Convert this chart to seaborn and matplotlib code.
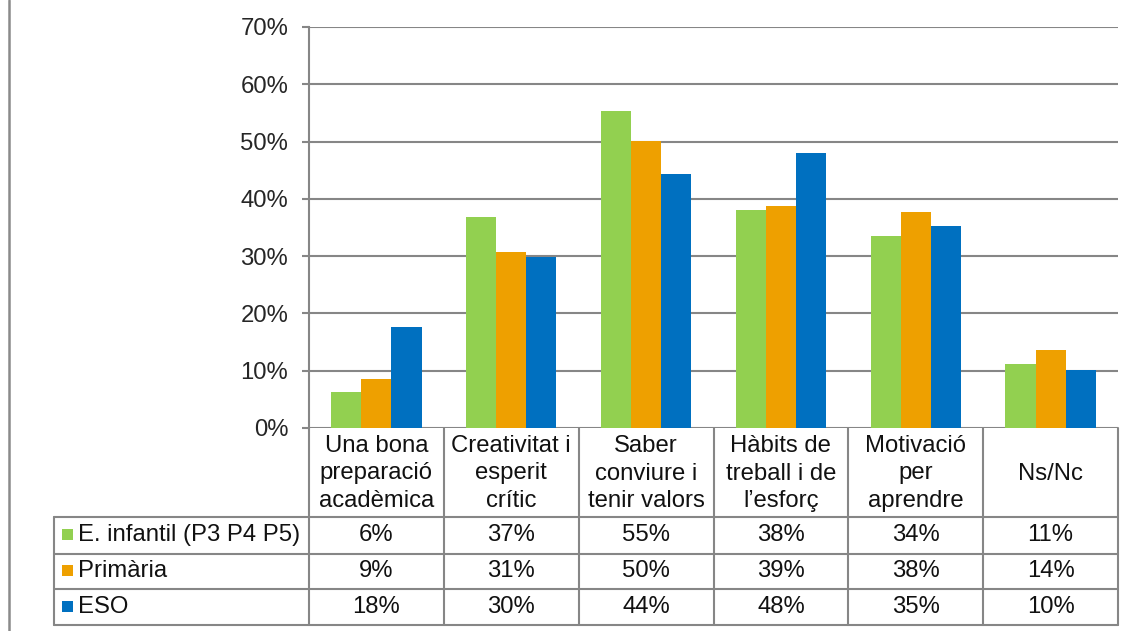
import numpy as np
import pandas as pd
import matplotlib.pyplot as plt
import seaborn as sns

# data (percentages)
categories = ["Una bona\npreparació\nacadèmica", "Creativitat i\nesperit\ncrític",
              "Saber\nconviure i\ntenir valors", "Hàbits de\ntreball i de\nl’esforç",
              "Motivació\nper\naprendre", "Ns/Nc"]
series = ["E. infantil (P3 P4 P5)", "Primària", "ESO"]
infantil = [6.3, 36.8, 55.4, 38.1, 33.6, 11.1]
primaria = [8.6, 30.8, 50.1, 38.7, 37.7, 13.7]
eso = [17.6, 29.8, 44.3, 48.0, 35.3, 10.1]
yticks = [0, 10, 20, 30, 40, 50, 60, 70]
colors = ["#92D050", "#EEA000", "#0070C0"]

values = [infantil, primaria, eso]
rows = []
for s, vals in zip(series, values):
    for c, v in zip(categories, vals):
        rows.append({"cat": c, "serie": s, "val": v})
df = pd.DataFrame(rows)

sns.set_style("white")
plt.rcParams['font.family'] = ['Liberation Sans', 'DejaVu Sans']
FS = 17.2
GRID = "#868686"

W, H = 1137, 631
fig = plt.figure(figsize=(W / 100, H / 100), dpi=100)

# plot area in pixels
x0, x1 = 309, 1118
y_top, y_zero = 27, 428
ax = fig.add_axes([x0 / W, (H - y_zero) / H, (x1 - x0) / W, (y_zero - y_top) / H])

sns.barplot(data=df, x="cat", y="val", hue="serie", palette=colors, hue_order=series,
            order=categories, width=0.67, saturation=1, linewidth=0, ax=ax, legend=False)

ax.set_ylim(0, 70)
ax.set_xlim(-0.5, len(categories) - 0.5)
ax.set_yticks(yticks)
ax.set_yticklabels([f"{t}%" for t in yticks], fontsize=FS)
ax.set_xticks([])
ax.set_xlabel("")
ax.set_ylabel("")
ax.yaxis.grid(True, color=GRID, linewidth=1.5)
ax.set_axisbelow(True)
ax.tick_params(axis="y", length=5, width=1.5, color=GRID, pad=10, left=True)
for side in ["top", "right", "bottom"]:
    ax.spines[side].set_visible(False)
ax.spines["left"].set_color(GRID)
ax.spines["left"].set_linewidth(1.5)

# data table under the chart, drawn in pixel coordinates
tab = fig.add_axes([0, 0, 1, 1], zorder=-1)
tab.set_xlim(0, W)
tab.set_ylim(H, 0)
tab.axis("off")

colw = (x1 - x0) / len(categories)
row_y = [517, 553.5, 589, 625]
tab_left = 54

# page border line on the left
tab.plot([9, 9], [0, H], color="#8a8a8a", lw=1.8)

for y in row_y:
    tab.plot([tab_left, x1], [y, y], color=GRID, lw=1.5)
tab.plot([tab_left, tab_left], [row_y[0], row_y[-1]], color=GRID, lw=1.5)
for i in range(len(categories) + 1):
    xx = x0 + i * colw
    tab.plot([xx, xx], [y_zero, row_y[-1]], color=GRID, lw=1.5)

for i, cat in enumerate(categories):
    cx = x0 + (i + 0.5) * colw
    tab.text(cx, (y_zero + row_y[0]) / 2 + 1, cat, ha="center", va="center",
             fontsize=FS, linespacing=1.32, color="#111111")

for r, (s, vals, col) in enumerate(zip(series, values, colors)):
    cy = (row_y[r] + row_y[r + 1]) / 2
    tab.add_patch(plt.Rectangle((62, cy - 6), 11, 11, color=col, lw=0))
    tab.text(78, cy, s, ha="left", va="center", fontsize=FS, color="#111111")
    for i, v in enumerate(vals):
        cx = x0 + (i + 0.5) * colw
        tab.text(cx, cy, f"{v:.0f}%", ha="center", va="center", fontsize=FS, color="#111111")

fig.savefig("out.png", dpi=100, facecolor="white")
